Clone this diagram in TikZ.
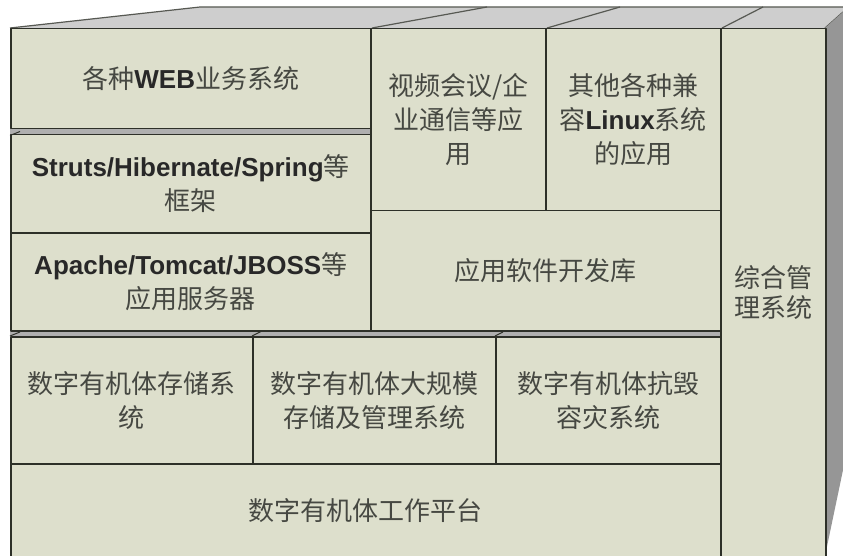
\documentclass[tikz,border=0pt]{standalone}
\usepackage{fontspec}
\setmainfont{Liberation Sans}
\newfontfamily\cjk{Noto Sans CJK SC}
\definecolor{facec}{RGB}{221,223,204}
\definecolor{topc}{RGB}{206,206,206}
\definecolor{sidec}{RGB}{150,150,150}
\definecolor{gapc}{RGB}{175,175,175}
\definecolor{edgec}{RGB}{45,48,40}
\definecolor{zhc}{RGB}{70,72,66}
\definecolor{enc}{RGB}{40,40,40}
\newcommand{\zh}[1]{{\cjk\color{zhc}#1}}
\newcommand{\en}[1]{{\fontsize{26}{34}\selectfont\bfseries\color{enc}#1}}
\tikzset{
  box/.style={draw=edgec, fill=facec, line width=1.5pt, inner sep=0pt, anchor=north west,
    align=center, font=\fontsize{26}{34}\selectfont},
  tick/.style={draw=edgec, line width=1pt},
  rim/.style={draw=edgec!80, line width=1.2pt}
}
\begin{document}
\begin{tikzpicture}[x=1pt,y=-1pt,line join=round]
\useasboundingbox (0,0) rectangle (843,556);
% top face
\fill[topc] (10,28) -- (200,7) -- (843,7) -- (843,12) -- (825,28) -- cycle;
\draw[rim] (10,28) -- (200,7) -- (843,7);
\draw[rim] (372,28) -- (487,7);
\draw[rim] (547,28) -- (620,7);
\draw[rim] (722,28) -- (763,7);
\draw[rim] (825,28) -- (843,12);
% right face
\fill[sidec] (825,28) -- (843,12) -- (843,470) -- (825,556) -- cycle;
% gaps between rows
\fill[gapc] (10,128) rectangle (370,134);
\fill[gapc] (10,330) rectangle (720,336);
% boxes
\node[box, minimum width=360pt, minimum height=100pt] (web) at (10,28)
  {\zh{各种}\en{WEB}\zh{业务系统}};
\node[box, minimum width=360pt, minimum height=98pt] (fw) at (10,134)
  {\en{Struts/Hibernate/Spring}\zh{等}\\\zh{框架}};
\node[box, minimum width=360pt, minimum height=98pt] (as) at (10,232)
  {\en{Apache/Tomcat/JBOSS}\zh{等}\\\zh{应用服务器}};
\node[box, minimum width=175pt, minimum height=182pt] (vc) at (370,28)
  {\zh{视频会议/企}\\\zh{业通信等应}\\\zh{用}};
\node[box, minimum width=175pt, minimum height=182pt] (lx) at (545,28)
  {\zh{其他各种兼}\\\zh{容}\en{Linux}\zh{系统}\\\zh{的应用}};
\node[box, minimum width=350pt, minimum height=120pt] (lib) at (370,210)
  {\zh{应用软件开发库}};
\node[box, minimum width=242pt, minimum height=127pt] (st) at (10,336)
  {\zh{数字有机体存储系}\\\zh{统}};
\node[box, minimum width=243pt, minimum height=127pt] (big) at (252,336)
  {\zh{数字有机体大规模}\\\zh{存储及管理系统}};
\node[box, minimum width=225pt, minimum height=127pt] (dr) at (495,336)
  {\zh{数字有机体抗毁}\\\zh{容灾系统}};
\node[box, minimum width=710pt, minimum height=93pt] (pf) at (10,463)
  {\zh{数字有机体工作平台}};
\node[box, minimum width=105pt, minimum height=528pt] (mg) at (720,28)
  {\zh{综合管}\\[-4pt]\zh{理系统}};
% small perspective ticks
\draw[tick] (web.south west) ++(0,6) -- ++(10,-4);
\draw[tick] (st.north west) -- ++(10,-4);
\draw[tick] (big.north west) -- ++(10,-5);
\draw[tick] (dr.north west) -- ++(8,-4);
\end{tikzpicture}
\end{document}
